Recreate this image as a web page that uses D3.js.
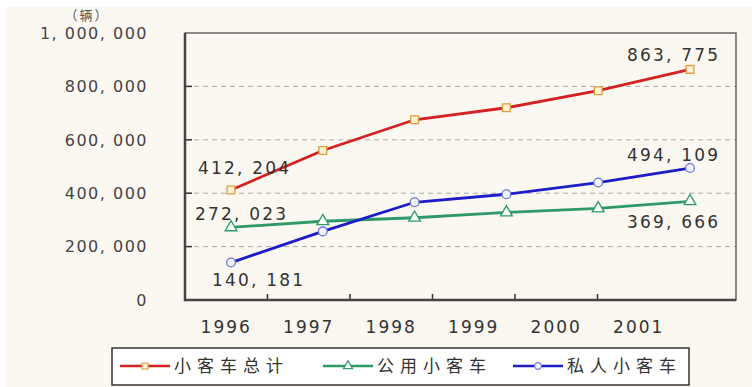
<!DOCTYPE html>
<html>
<head>
<meta charset="utf-8">
<script src="https://cdn.jsdelivr.net/npm/d3@7"></script>
<style>
  body { margin: 0; background: #fff; }
  text { font-family: "DejaVu Sans", sans-serif; }
</style>
</head>
<body>
<script>
const years = ["1996", "1997", "1998", "1999", "2000", "2001"];
const totalCars = [412204, 560000, 675000, 720000, 784000, 863775];
const publicCars = [272023, 295000, 308000, 328000, 343000, 369666];
const privateCars = [140181, 257000, 366000, 396000, 440000, 494109];
const yTicks = [0, 200000, 400000, 600000, 800000, 1000000];
const seriesNames = ["小客车总计", "公用小客车", "私人小客车"];

const W = 752, H = 387;
const plot = { left: 185, top: 33, right: 736, bottom: 300 };

const svg = d3.select("body")
    .append("svg")
    .attr("width", W)
    .attr("height", H);

// cream background
svg.append("rect")
    .attr("x", 6).attr("y", 7)
    .attr("width", W - 6).attr("height", H - 7)
    .attr("fill", "#fbf8f1");

const y = d3.scaleLinear().domain([0, 1000000]).range([plot.bottom, plot.top]);
// the category labels sit in a narrower band than the points
const xBand = d3.scaleBand().domain(years).range([plot.left, 680]);
const x = d3.scalePoint().domain(years).range([231, 690]);

const fmt = v => d3.format(",")(v).replace(/,/g, ", ");

// grid
svg.append("g")
    .selectAll("line")
    .data(yTicks.filter(d => d > 0 && d < 1000000))
    .join("line")
    .attr("x1", plot.left).attr("x2", plot.right)
    .attr("y1", d => y(d)).attr("y2", d => y(d))
    .attr("stroke", "#aaa")
    .attr("stroke-width", 1)
    .attr("stroke-dasharray", "5,4");

// left ticks
svg.append("g")
    .selectAll("line")
    .data(yTicks.filter(d => d > 0 && d < 1000000))
    .join("line")
    .attr("x1", plot.left).attr("x2", plot.left + 7)
    .attr("y1", d => y(d)).attr("y2", d => y(d))
    .attr("stroke", "#333")
    .attr("stroke-width", 1.5);

// bottom ticks at band boundaries
svg.append("g")
    .selectAll("line")
    .data(years.slice(1))
    .join("line")
    .attr("x1", d => xBand(d)).attr("x2", d => xBand(d))
    .attr("y1", plot.bottom).attr("y2", plot.bottom - 6)
    .attr("stroke", "#333")
    .attr("stroke-width", 1.5);

// frame
svg.append("rect")
    .attr("x", plot.left).attr("y", plot.top)
    .attr("width", plot.right - plot.left)
    .attr("height", plot.bottom - plot.top)
    .attr("fill", "none")
    .attr("stroke", "#666")
    .attr("stroke-width", 1.5);
svg.append("path")
    .attr("d", `M${plot.left},${plot.top}V${plot.bottom}H${plot.right}`)
    .attr("fill", "none")
    .attr("stroke", "#444")
    .attr("stroke-width", 2.5);

// y labels
svg.append("g")
    .selectAll("text")
    .data(yTicks)
    .join("text")
    .attr("x", 148)
    .attr("y", d => y(d))
    .attr("dy", "0.36em")
    .attr("text-anchor", "end")
    .attr("fill", "#444")
    .style("font-size", "16px")
    .style("letter-spacing", "1.5px")
    .text(d => fmt(d));

// unit
svg.append("text")
    .attr("x", 87).attr("y", 20)
    .attr("text-anchor", "middle")
    .attr("fill", "#555")
    .style("font-family", "'Noto Sans CJK SC'")
    .style("font-size", "13px")
    .style("letter-spacing", "2px")
    .text("（辆）");

// x labels
svg.append("g")
    .selectAll("text")
    .data(years)
    .join("text")
    .attr("x", d => xBand(d) + xBand.bandwidth() / 2)
    .attr("y", 333)
    .attr("text-anchor", "middle")
    .attr("fill", "#333")
    .style("font-size", "17px")
    .style("letter-spacing", "2px")
    .text(d => d);

const series = [
    { name: seriesNames[0], values: totalCars, color: "#d42222", stroke: "#e09a40", fill: "#fff3d6", shape: d3.symbolSquare },
    { name: seriesNames[1], values: publicCars, color: "#2f9a66", stroke: "#2f9a66", fill: "#f4fff6", shape: d3.symbolTriangle },
    { name: seriesNames[2], values: privateCars, color: "#1c1cc8", stroke: "#6a78d8", fill: "#f2f4ff", shape: d3.symbolCircle }
];

const line = d3.line().x((d, i) => x(years[i])).y(d => y(d));

series.forEach(s => {
    svg.append("path")
        .datum(s.values)
        .attr("d", line)
        .attr("fill", "none")
        .attr("stroke", s.color)
        .attr("stroke-width", 2.8);
    svg.append("g")
        .selectAll("path")
        .data(s.values)
        .join("path")
        .attr("transform", (d, i) => `translate(${x(years[i])},${y(d)})`)
        .attr("d", d3.symbol().type(s.shape).size(60))
        .attr("fill", s.fill)
        .attr("stroke", s.stroke)
        .attr("stroke-width", 1.3);
});

// value labels at first and last points
const labelOffsets = [
    { first: [-33, -22], last: [-63, -14] },
    { first: [-36, -13], last: [-63, 21] },
    { first: [-19, 17], last: [-63, -13] }
];
series.forEach((s, k) => {
    const n = s.values.length - 1;
    [[0, labelOffsets[k].first], [n, labelOffsets[k].last]].forEach(([i, off]) => {
        svg.append("text")
            .attr("x", x(years[i]) + off[0])
            .attr("y", y(s.values[i]) + off[1])
            .attr("dy", "0.36em")
            .attr("fill", "#333")
            .style("font-size", "17px")
            .style("letter-spacing", "2.2px")
            .text(fmt(s.values[i]));
    });
});

// legend
const legend = svg.append("g");
legend.append("rect")
    .attr("x", 112).attr("y", 348)
    .attr("width", 577).attr("height", 37)
    .attr("fill", "#fff")
    .attr("stroke", "#333")
    .attr("stroke-width", 1.5);
const legendX = [120, 323, 513];
series.forEach((s, k) => {
    const lx = legendX[k], ly = 366;
    legend.append("line")
        .attr("x1", lx).attr("x2", lx + 50)
        .attr("y1", ly).attr("y2", ly)
        .attr("stroke", s.color)
        .attr("stroke-width", 2.5);
    legend.append("path")
        .attr("transform", `translate(${lx + 25},${ly})`)
        .attr("d", d3.symbol().type(s.shape).size(36))
        .attr("fill", s.fill)
        .attr("stroke", s.stroke)
        .attr("stroke-width", 1.2);
    legend.append("text")
        .attr("x", lx + 54)
        .attr("y", ly)
        .attr("dy", "0.36em")
        .attr("fill", "#333")
        .style("font-family", "'Noto Sans CJK SC'")
        .style("font-size", "17px")
        .style("letter-spacing", "6px")
        .text(s.name);
});
</script>
</body>
</html>
